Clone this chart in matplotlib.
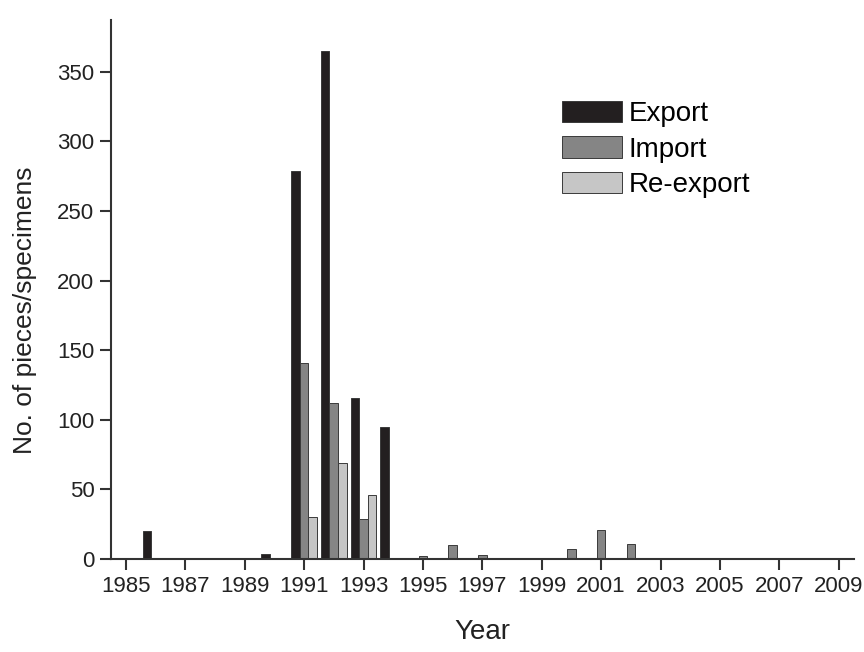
import numpy as np
import matplotlib
matplotlib.use("Agg")
from matplotlib import pyplot as plt

# Data
export_years = [1986, 1988, 1990, 1991, 1992, 1993, 1994]
export_vals = [20, 0.7, 3.5, 279, 365, 116, 95]
import_years = [1991, 1992, 1993, 1995, 1996, 1997, 2000, 2001, 2002]
import_vals = [141, 112, 29, 2.5, 10, 3, 7, 21, 10.5]
reexport_years = [1991, 1992, 1993]
reexport_vals = [30, 69, 46]
xtick_years = list(range(1985, 2010, 2))
ytick_vals = [0, 50, 100, 150, 200, 250, 300, 350]

plt.rcParams['font.family'] = ['Liberation Sans', 'DejaVu Sans']

fig = plt.figure(figsize=(8.64, 6.52), dpi=100)
ax = fig.add_axes([0.1285, 0.1426, 0.8595, 0.8264])

bw = 0.29
edge = '#3a3a3a'
ax.bar(np.array(export_years) - bw, export_vals, width=bw, color='#231f20',
       edgecolor=edge, linewidth=0.7, label='Export')
ax.bar(np.array(import_years), import_vals, width=bw, color='#858585',
       edgecolor=edge, linewidth=0.7, label='Import')
ax.bar(np.array(reexport_years) + bw, reexport_vals, width=bw, color='#c6c6c6',
       edgecolor=edge, linewidth=0.7, label='Re-export')

ax.set_xlim(1984.5, 2009.5)
ax.set_ylim(0, 387)
ax.set_xticks(xtick_years)
ax.set_yticks(ytick_vals)

for s in ['top', 'right']:
    ax.spines[s].set_visible(False)
for s in ['left', 'bottom']:
    ax.spines[s].set_linewidth(1.5)
    ax.spines[s].set_color('#333333')

ax.tick_params(axis='both', direction='out', length=8, width=1.5,
               color='#333333', labelsize=16, labelcolor='#222222', pad=4)

ax.set_xlabel('Year', fontsize=20, color='#222222', labelpad=16)
ax.set_ylabel('No. of pieces/specimens', fontsize=19, color='#222222', labelpad=14)
ax.yaxis.set_label_coords(-0.1, 0.462)

ax.legend(loc='upper left', bbox_to_anchor=(0.607, 0.85), frameon=False,
          fontsize=20, handlelength=2.15, handleheight=0.8, labelspacing=0.33,
          handletextpad=0.25, borderpad=0, borderaxespad=0)

fig.savefig('out.png', dpi=100)
